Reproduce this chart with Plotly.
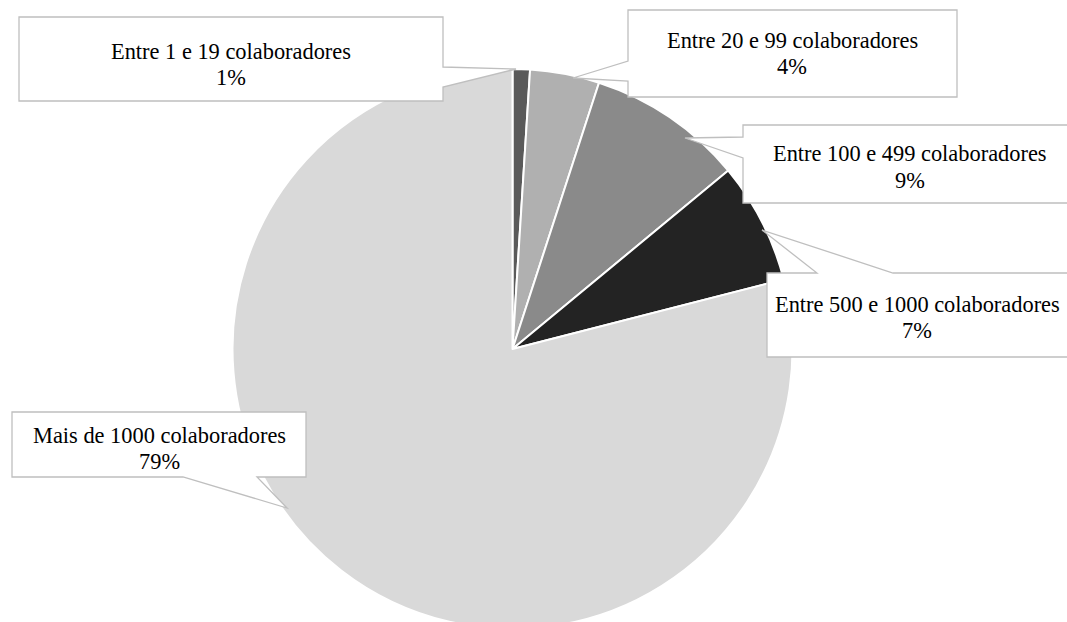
import plotly.graph_objects as go

# Company size distribution (share of respondents)
categories = [
    "Entre 1 e 19 colaboradores",
    "Entre 20 e 99 colaboradores",
    "Entre 100 e 499 colaboradores",
    "Entre 500 e 1000 colaboradores",
    "Mais de 1000 colaboradores",
]
shares = [1, 4, 9, 7, 79]
slice_colors = ["#5a5a5a", "#b0b0b0", "#8a8a8a", "#232323", "#d9d9d9"]

W, H = 1067, 640
FONT = "Liberation Serif"
FONT_SIZE = 22.4

# pie placement in pixels (centre x, centre y from top, radius)
CX, CY, R = 512.5, 349, 280


def px(x):
    return x / W


def py(y):
    return 1 - y / H


fig = go.Figure(
    go.Pie(
        labels=categories,
        values=shares,
        sort=False,
        direction="clockwise",
        rotation=0,
        marker=dict(colors=slice_colors, line=dict(color="white", width=2)),
        textinfo="none",
        hoverinfo="label+percent",
        showlegend=False,
        domain=dict(x=[px(CX - R), px(CX + R)], y=[py(CY + R), py(CY - R)]),
    )
)

# callout boxes: box (x0, y0, x1, y1), side of the pointer, pointer base, pointer tip,
# text centre x and the vertical centres of the two text lines
callouts = [
    dict(box=(19, 17, 443, 101), side="right", base=(67, 87), tip=(516, 69), tx=231, ty=(51, 77.5)),
    dict(box=(628, 10, 957, 97), side="left", base=(61, 81), tip=(573, 78), tx=792, ty=(40.5, 66.5)),
    dict(box=(743, 125, 1080, 203), side="left", base=(137, 158), tip=(685, 138), tx=910, ty=(153.5, 180)),
    dict(box=(767, 273, 1080, 357), side="top", base=(817, 893), tip=(762, 230), tx=917, ty=(304.5, 330)),
    dict(box=(12, 412, 306, 477), side="bottom", base=(183, 257), tip=(287, 508), tx=159, ty=(435, 461)),
]


def callout_path(c):
    x0, y0, x1, y1 = c["box"]
    b0, b1 = c["base"]
    tx, ty = c["tip"]
    if c["side"] == "right":
        pts = [(x0, y0), (x1, y0), (x1, b0), (tx, ty), (x1, b1), (x1, y1), (x0, y1)]
    elif c["side"] == "left":
        pts = [(x0, y0), (x1, y0), (x1, y1), (x0, y1), (x0, b1), (tx, ty), (x0, b0)]
    elif c["side"] == "top":
        pts = [(x0, y0), (b0, y0), (tx, ty), (b1, y0), (x1, y0), (x1, y1), (x0, y1)]
    else:
        pts = [(x0, y0), (x1, y0), (x1, y1), (b1, y1), (tx, ty), (b0, y1), (x0, y1)]
    return "M " + " L ".join(f"{px(x):.5f},{py(y):.5f}" for x, y in pts) + " Z"


shapes = []
annotations = []
for cat, val, c in zip(categories, shares, callouts):
    shapes.append(
        dict(
            type="path",
            xref="paper",
            yref="paper",
            path=callout_path(c),
            fillcolor="white",
            line=dict(color="#bfbfbf", width=1.3),
            layer="above",
        )
    )
    for line_text, y_line in zip([cat, f"{val}%"], c["ty"]):
        annotations.append(
            dict(
                xref="paper",
                yref="paper",
                x=px(c["tx"]),
                y=py(y_line),
                xanchor="center",
                yanchor="middle",
                text=line_text,
                showarrow=False,
                font=dict(family=FONT, size=FONT_SIZE, color="#000000"),
            )
        )

fig.update_layout(
    width=W,
    height=H,
    margin=dict(l=0, r=0, t=0, b=0),
    paper_bgcolor="white",
    plot_bgcolor="white",
    font=dict(family=FONT),
    shapes=shapes,
    annotations=annotations,
)

fig.write_html(
    "out.html",
    config={"displayModeBar": False},
    post_script=(
        "document.body.style.margin='0';"
        "document.body.style.overflow='hidden';"
        "document.documentElement.style.overflow='hidden';"
    ),
)
